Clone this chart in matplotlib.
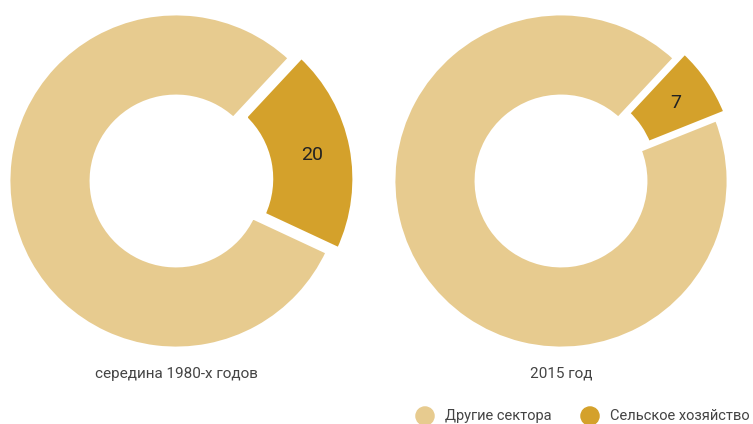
import matplotlib.pyplot as plt

# data
years = ['середина 1980-х годов', '2015 год']
agri = [20, 7]
other = [80, 93]
legend_labels = ['Другие сектора', 'Сельское хозяйство']

c_other = '#E7CB8F'
c_agri = '#D4A12B'

plt.rcParams['font.family'] = ['Roboto', 'DejaVu Sans']

fig = plt.figure(figsize=(7.53, 4.24), dpi=100)
ax = fig.add_axes([0, 0, 1, 1])

H = 424
centers = [(176, H - 181), (561, H - 181)]
R = 168

for (cx, cy), a, o, name in zip(centers, agri, other, years):
    # explode is absolute here because radius is in pixels
    wedges, texts = ax.pie([a, o], colors=[c_agri, c_other],
                           startangle=47, counterclock=False,
                           explode=[11, 0], radius=R, center=(cx, cy),
                           labels=[str(a), ''], labeldistance=0.76,
                           wedgeprops=dict(width=84, edgecolor='white', linewidth=3.5),
                           textprops=dict(fontsize=14, color='#222222'),
                           frame=True)
    for t in texts:
        t.set_ha('center')
        t.set_va('center')
    ax.text(cx, H - 374, name, ha='center', va='center', fontsize=11,
            color='#444444')

# legend
ax.scatter([425, 590], [H - 416, H - 416], s=170, c=[c_other, c_agri], clip_on=False)
ax.text(445, H - 416, legend_labels[0], ha='left', va='center', fontsize=10.5, color='#444444')
ax.text(610, H - 416, legend_labels[1], ha='left', va='center', fontsize=10.5, color='#444444')

ax.set_xlim(0, 753)
ax.set_ylim(0, H)
ax.set_aspect('equal')
ax.axis('off')

fig.savefig('out.png', dpi=100)
